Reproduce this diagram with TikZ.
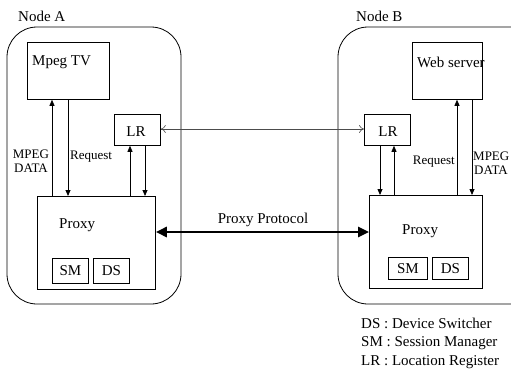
\documentclass[tikz,border=0pt]{standalone}
\usepackage{fontspec}
\setmainfont{Liberation Serif}
\usetikzlibrary{arrows.meta}
\begin{document}
\begin{tikzpicture}[x=1pt,y=-1pt,
  box/.style={draw,line width=0.8pt,anchor=north west,inner sep=0pt},
  hostframe/.style={draw,line width=0.8pt,rounded corners=30pt},
  txt/.style={inner sep=0pt,font=\fontsize{15}{17}\selectfont},
  small/.style={inner sep=0pt,font=\fontsize{13}{14}\selectfont,align=center},
  flow/.style={line width=0.8pt,-{Triangle[length=6pt,width=5pt]}},
  lrlink/.style={line width=0.6pt,draw=black!70,{To[length=5pt,width=8pt]}-{To[length=5pt,width=8pt]}},
  proto/.style={line width=2.6pt,{Triangle[length=11pt,width=10pt]}-{Triangle[length=11pt,width=10pt]}}]
\useasboundingbox (0,0) rectangle (511,369);
\fill[white] (0,0) rectangle (511,369);

% host frames and their titles
\draw[hostframe] (7,27) rectangle (181,304);
\draw[hostframe] (338,27) rectangle (540,304);
\node[txt,anchor=west] (titleA) at (18,16) {Node A};
\node[txt,anchor=west] (titleB) at (356,16) {Node B};

% Node A components
\node[box,minimum width=82pt,minimum height=57pt] (tv) at (27,42) {};
\node[txt,anchor=west] (tvtext) at (32,62) {Mpeg TV};
\node[box,minimum width=46pt,minimum height=31pt] (lra) at (114,114) {};
\node[txt] (lratext) at (136,132) {LR};
\node[box,minimum width=118pt,minimum height=93pt] (proxya) at (37,196) {};
\node[txt,anchor=west] (proxyatext) at (59,225) {Proxy};
\node[box,minimum width=36pt,minimum height=25pt,txt] (sma) at (52,258) {SM};
\node[box,minimum width=36pt,minimum height=25pt,txt] (dsa) at (93,258) {DS};

% Node B components
\node[box,minimum width=70pt,minimum height=57pt] (web) at (412,42) {};
\node[txt,anchor=west] (webtext) at (417,62) {Web server};
\node[box,minimum width=46pt,minimum height=31pt] (lrb) at (364,114) {};
\node[txt] (lrbtext) at (388,132) {LR};
\node[box,minimum width=113pt,minimum height=93pt] (proxyb) at (369,195) {};
\node[txt,anchor=west] (proxybtext) at (402,231) {Proxy};
\node[box,minimum width=39pt,minimum height=22pt,txt] (smb) at (388,257) {SM};
\node[box,minimum width=36pt,minimum height=22pt,txt] (dsb) at (432,257) {DS};

% flows inside Node A
\draw[flow] (proxya.north west -| 52,0) -- (tv.south west -| 52,0);
\draw[flow] (tv.south west -| 68,0) -- (proxya.north west -| 68,0);
\draw[flow] (proxya.north west -| 130,0) -- (lra.south west -| 130,0);
\draw[flow] (lra.south west -| 145,0) -- (proxya.north west -| 145,0);
\node[small] (dataA) at (31,161) {MPEG\\DATA};
\node[small,anchor=west] (reqA) at (70,157) {Request};

% flows inside Node B
\draw[flow] (lrb.south west -| 380,0) -- (proxyb.north west -| 380,0);
\draw[flow] (proxyb.north west -| 394,0) -- (lrb.south west -| 394,0);
\draw[flow] (proxyb.north west -| 457,0) -- (web.south west -| 457,0);
\draw[flow] (web.south west -| 472,0) -- (proxyb.north west -| 472,0);
\node[small,anchor=east] (reqB) at (455,162) {Request};
\node[small,anchor=west] (dataB1) at (473,156) {MPEG};
\node[small,anchor=west] (dataB2) at (474,170) {DATA};

% links between the nodes
\draw[lrlink] (lra.east |- 0,129) -- (lrb.west |- 0,129);
\draw[proto] (proxya.east |- 0,232) -- (proxyb.west |- 0,232);
\node[txt] (protolabel) at (263,220) {Proxy Protocol};

% legend
\node[txt,anchor=west] (leg1) at (361,323) {DS : Device Switcher};
\node[txt,anchor=west] (leg2) at (361,343) {SM : Session Manager};
\node[txt,anchor=west] (leg3) at (361,362) {LR : Location Register};
\end{tikzpicture}
\end{document}
